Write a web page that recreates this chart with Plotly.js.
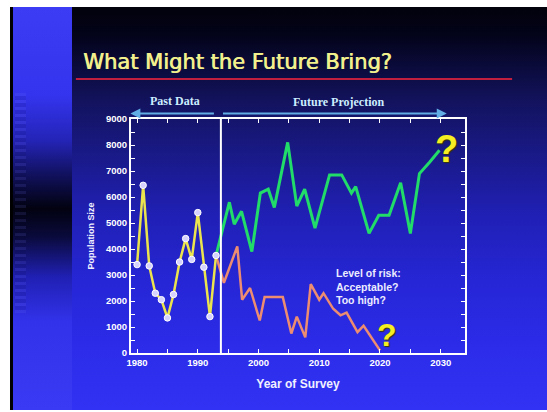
<!DOCTYPE html>
<html>
<head>
<meta charset="utf-8">
<script src="https://cdn.plot.ly/plotly-3.0.1.min.js"></script>
<style>
  html, body { margin:0; padding:0; background:#ffffff; }
  #wrap { position:relative; width:547px; height:412px; overflow:hidden; background:#ffffff; }
  #slide { position:absolute; left:10px; top:7px; width:537px; height:403px;
    border-left:3px solid #000;
    background: linear-gradient(180deg, #02020c 0%, #03031a 7%, #0a0a38 14%, #131360 24%, #1a1a8c 38%, #2020b6 52%, #2626d6 68%, #2c2cea 85%, #3232f4 100%); }
  #strip { position:absolute; left:13px; top:7px; width:59px; height:403px;
    background: linear-gradient(180deg, #3c3cf4 0%, #3434ee 22%, #2424b8 33%, #10105a 42%, #020210 50%, #0a0a3c 57%, #2020b4 67%, #3232ea 78%, #3a3af4 100%); }
  #stripes { position:absolute; left:15px; top:93px; width:11px; height:220px; opacity:0.14;
    background: repeating-linear-gradient(180deg, rgba(120,120,255,0.9) 0px, rgba(120,120,255,0.9) 3px, rgba(0,0,40,0.6) 3px, rgba(0,0,40,0.6) 7px); }
  #chart { position:absolute; left:0; top:0; width:547px; height:412px; }
</style>
</head>
<body>
<div id="wrap">
  <div id="slide"></div>
  <div id="strip"></div>
  <div id="stripes"></div>
  <div id="chart"></div>
</div>
<script>
// ---- data ----
var pastYears  = [1980, 1981, 1982, 1983, 1984, 1985, 1986, 1987, 1988, 1989, 1990, 1991, 1992, 1993];
var pastValues = [3400, 6450, 3350, 2300, 2050, 1350, 2250, 3500, 4400, 3600, 5400, 3300, 1400, 3750];

var highYears  = [1993, 1995.2, 1996, 1997.2, 1998.9, 2000.3, 2001.6, 2002.6, 2004.8, 2006.3, 2007.6, 2009.3,
                  2011.7, 2013.7, 2015.3, 2016, 2018.2, 2019.8, 2021.5, 2023.4, 2025, 2026.5, 2028.2, 2029.8];
var highValues = [3750, 5800, 4950, 5450, 3900, 6150, 6300, 5600, 8100, 5650, 6300, 4800,
                  6850, 6850, 6150, 6400, 4600, 5300, 5300, 6550, 4600, 6900, 7350, 7800];

var lowYears   = [1993, 1994.3, 1996.5, 1997.3, 1998.6, 2000.2, 2001, 2004, 2005.4, 2006.3, 2007.7, 2008.6,
                  2010, 2010.7, 2012.3, 2013.5, 2014.5, 2016.3, 2017.3, 2020];
var lowValues  = [3750, 2700, 4100, 2050, 2500, 1250, 2150, 2150, 750, 1400, 600, 2650,
                  2050, 2300, 1700, 1450, 1550, 800, 1050, 100];

var xTickVals  = [1980, 1985, 1990, 1995, 2000, 2005, 2010, 2015, 2020, 2025, 2030];
var xTickText  = ['1980', '', '1990', '', '2000', '', '2010', '', '2020', '', '2030'];
var yTickVals  = [0, 500, 1000, 1500, 2000, 2500, 3000, 3500, 4000, 4500, 5000, 5500, 6000, 6500, 7000, 7500, 8000, 8500, 9000];
var yTickText  = ['0', '', '1000', '', '2000', '', '3000', '', '4000', '', '5000', '', '6000', '', '7000', '', '8000', '', '9000'];

var splitYear = 1993.8;
var titleText = 'What Might the Future Bring?';

// ---- traces ----
var traces = [
  { x: lowYears, y: lowValues, type: 'scatter', mode: 'lines',
    line: { color: '#ec8c70', width: 2.5 }, hoverinfo: 'skip' },
  { x: highYears, y: highValues, type: 'scatter', mode: 'lines',
    line: { color: '#22dc6a', width: 3 }, hoverinfo: 'skip' },
  { x: pastYears, y: pastValues, type: 'scatter', mode: 'lines+markers',
    line: { color: '#ece44c', width: 2.5 },
    marker: { symbol: 'circle', size: 6.5, color: '#d6d2ff', line: { color: '#ffffff', width: 1 } },
    hoverinfo: 'skip' }
];

var axisFont = { family: 'Liberation Sans, Arial, sans-serif', size: 9.5, color: '#ffffff', weight: 'bold' };

var layout = {
  width: 547, height: 412,
  margin: { l: 131, r: 82, t: 119, b: 59 },
  paper_bgcolor: 'rgba(0,0,0,0)',
  plot_bgcolor: 'rgba(0,0,0,0)',
  showlegend: false,
  title: {
    text: titleText,
    x: 83 / 547, xanchor: 'left', xref: 'container',
    y: 1 - 62 / 412, yanchor: 'middle', yref: 'container',
    font: { family: 'DejaVu Sans, Verdana, sans-serif', size: 21, color: '#f2f08c',
            shadow: '0.7px 0 0 #f2f08c' }
  },
  xaxis: {
    range: [1979, 2034], showgrid: false, zeroline: false,
    tickmode: 'array', tickvals: xTickVals, ticktext: xTickText,
    ticks: 'inside', ticklen: 4, tickcolor: '#ffffff', tickwidth: 1,
    showline: true, linecolor: '#ffffff', linewidth: 2, mirror: 'ticks',
    tickfont: axisFont,
    title: { text: 'Year of Survey', standoff: 12,
      font: { family: 'Liberation Sans, Arial, sans-serif', size: 12, color: '#f0f0ff', weight: 'bold' } }
  },
  yaxis: {
    range: [0, 9000], showgrid: false, zeroline: false,
    tickmode: 'array', tickvals: yTickVals, ticktext: yTickText,
    ticks: 'inside', ticklen: 4, tickcolor: '#ffffff', tickwidth: 1,
    showline: true, linecolor: '#ffffff', linewidth: 2, mirror: 'ticks',
    tickfont: axisFont,
    title: { text: 'Population Size', standoff: 10,
      font: { family: 'Liberation Sans, Arial, sans-serif', size: 9, color: '#f0f0ff', weight: 'bold' } }
  },
  shapes: [
    { type: 'line', xref: 'x', yref: 'paper', x0: splitYear, x1: splitYear, y0: 0, y1: 1,
      line: { color: '#ffffff', width: 2 } },
    { type: 'line', xref: 'paper', yref: 'paper', x0: -0.165, x1: 1.141, y0: 1.171, y1: 1.171,
      line: { color: '#c21e3e', width: 2 } }
  ],
  annotations: [
    { text: 'Past Data', xref: 'x', yref: 'paper', x: 1986.2, y: 1.077, showarrow: false,
      xanchor: 'center', yanchor: 'middle',
      font: { family: 'Liberation Serif, DejaVu Serif, serif', size: 12, color: '#cdeeff', weight: 'bold' } },
    { text: 'Future Projection', xref: 'x', yref: 'paper', x: 2013.3, y: 1.073, showarrow: false,
      xanchor: 'center', yanchor: 'middle',
      font: { family: 'Liberation Serif, DejaVu Serif, serif', size: 12, color: '#cdeeff', weight: 'bold' } },
    { text: '', xref: 'x', yref: 'paper', x: 1978.9, y: 1.0235, axref: 'x', ax: 1992.9, ay: 0,
      showarrow: true, arrowhead: 2, arrowsize: 1, arrowwidth: 2, arrowcolor: '#62aee4', standoff: 0, startstandoff: 0 },
    { text: '', xref: 'x', yref: 'paper', x: 2031.0, y: 1.0235, axref: 'x', ax: 1993.9, ay: 0,
      showarrow: true, arrowhead: 2, arrowsize: 1, arrowwidth: 2, arrowcolor: '#62aee4', standoff: 0, startstandoff: 0 },
    { text: 'Level of risk:<br>Acceptable?<br>Too high?', xref: 'x', yref: 'y', x: 2012.5, y: 3400,
      xanchor: 'left', yanchor: 'top', align: 'left', showarrow: false,
      font: { family: 'Liberation Sans, Arial, sans-serif', size: 10.5, color: '#ececff', weight: 'bold' } },
    { text: '?', xref: 'x', yref: 'y', x: 2030.9, y: 7850, xanchor: 'center', yanchor: 'middle', showarrow: false,
      font: { family: 'Liberation Sans, Arial, sans-serif', size: 38, color: '#f4ee22', weight: 'bold',
              shadow: '1px 1px 1px #3a3a00' } },
    { text: '?', xref: 'x', yref: 'y', x: 2021.1, y: 700, xanchor: 'center', yanchor: 'middle', showarrow: false,
      font: { family: 'Liberation Sans, Arial, sans-serif', size: 32, color: '#f4ee22', weight: 'bold',
              shadow: '1px 1px 1px #3a3a00' } }
  ]
};

Plotly.newPlot('chart', traces, layout, { staticPlot: true, displayModeBar: false });
</script>
</body>
</html>
